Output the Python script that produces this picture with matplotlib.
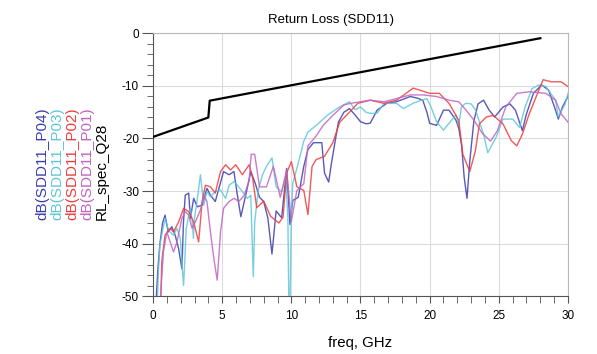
import matplotlib
matplotlib.use("Agg")
import matplotlib.pyplot as plt
from matplotlib.ticker import MultipleLocator

plt.rcParams['font.family'] = ['Liberation Sans', 'DejaVu Sans']
plt.rcParams['axes.unicode_minus'] = False

# ---- data ----
spec_f = [0, 4.0, 4.1, 28.0]
spec_db = [-19.7, -16.0, -12.8, -0.9]

p04_f = [0.2, 0.35, 0.5, 0.7, 0.87, 1.1, 1.36, 1.6, 1.85, 2.09, 2.2, 2.33, 2.58, 2.7, 2.94, 3.2, 3.55, 3.9,
         4.15, 4.5, 4.9, 5.1, 5.5, 5.85, 6.1, 6.35, 6.7, 7.07, 7.4, 7.7, 8.0, 8.3, 8.6, 8.9, 9.3, 9.66, 9.9,
         10.1, 10.5, 10.9, 11.2, 11.6, 12.2, 12.4, 12.7, 12.9, 13.4, 13.8, 14.2, 14.6, 15.0, 15.4, 15.7, 16.2,
         16.9, 17.6, 18.1, 18.6, 19.1, 19.5, 19.8, 20.0, 20.5, 21.0, 21.4, 21.9, 22.1, 22.3, 22.5, 22.7, 22.9,
         23.2, 23.5, 23.9, 24.3, 24.7, 25.3, 25.8, 26.2, 26.7, 27.0, 27.5, 28.1, 28.6, 29.1, 29.3, 29.6, 30.0]
p04_db = [-52, -45, -40, -36, -34.6, -37.8, -36.8, -38.4, -41, -44.8, -36, -30.8, -30.4, -35.2, -31.4, -33,
          -32.7, -29.5, -30.8, -32, -28.2, -26.3, -26.9, -26.3, -30.8, -34.9, -30.8, -26.3, -28.6, -31.2, -32,
          -35.1, -42, -33.8, -35.1, -25.7, -36.4, -31.8, -31.2, -25.3, -22.1, -20.8, -20.8, -26.6, -28.3, -24.7,
          -16.9, -15, -14.3, -15.5, -16.8, -17.2, -17.1, -14.6, -13.3, -13, -12.5, -12, -12.3, -12.7, -15,
          -17.1, -17.5, -14.6, -14.6, -16.5, -18, -21.1, -27.5, -31.4, -24.3, -16.6, -13.4, -12.7, -14.6,
          -15.9, -14, -13.4, -14.6, -18.5, -15.3, -11.4, -9.8, -10.8, -14.6, -16.3, -14, -12]

p03_f = [0.3, 0.4, 0.5, 0.63, 0.87, 1.12, 1.48, 1.73, 1.97, 2.1, 2.21, 2.32, 2.4, 2.7, 2.85, 2.92, 3.0, 3.18,
         3.43, 3.67, 3.9, 4.15, 4.5, 4.88, 5.25, 5.5, 5.86, 6.1, 6.46, 6.83, 7.07, 7.15, 7.25, 7.35, 7.6, 7.9,
         8.2, 8.6, 8.9, 9.3, 9.6, 9.75, 9.82, 9.9, 10.0, 10.1, 10.5, 10.9, 11.2, 11.8, 12.6, 13.3, 14.2, 14.6,
         15.0, 15.4, 15.7, 16.2, 16.7, 17.6, 18.1, 18.8, 19.3, 19.8, 20.1, 20.5, 21.0, 21.4, 21.9, 22.1, 22.3,
         22.6, 23.0, 23.3, 23.9, 24.2, 24.8, 25.3, 26.0, 26.5, 26.9, 27.4, 27.9, 28.4, 29.1, 29.3, 29.8, 30.0]
p03_db = [-52, -45, -40.3, -38.4, -35.2, -37.5, -38.4, -37.1, -39, -44, -48, -42, -37.1, -33.3, -36, -39,
          -35.2, -32, -26.9, -32.7, -30.1, -31.1, -30.1, -29.8, -31.4, -28.9, -28.2, -28.9, -30.1, -31.4,
          -30.8, -38, -46.3, -36, -30, -27, -25.3, -23.7, -29.2, -30.2, -27.3, -35, -52, -52, -35, -28.6,
          -24.7, -20.5, -18.8, -17.5, -15.6, -14.3, -13, -14.5, -14, -15, -15.2, -15.2, -13.3, -13.3, -14.3,
          -13.3, -12.8, -12.4, -14, -16.8, -18.4, -17.1, -15.5, -17.5, -14, -13.3, -13.4, -14.5, -19.2,
          -22.7, -19.8, -16.3, -16.3, -17.9, -14, -10.5, -9.8, -10.1, -12.7, -15.9, -13.4, -11.4]

p02_f = [0.55, 0.63, 0.87, 1.24, 1.48, 1.85, 2.21, 2.58, 2.94, 3.3, 3.55, 3.79, 4.15, 4.5, 4.88, 5.25, 5.6,
         5.98, 6.46, 6.95, 7.2, 7.5, 8.0, 8.5, 9.1, 9.4, 9.66, 10.0, 10.4, 10.9, 11.2, 11.5, 11.8, 12.4, 13.0,
         13.5, 14.2, 14.8, 15.7, 16.7, 17.6, 18.3, 18.8, 19.3, 20.0, 20.7, 21.4, 22.1, 22.4, 22.9, 23.3, 23.6,
         24.1, 24.6, 25.3, 25.9, 26.3, 26.7, 27.2, 27.8, 28.2, 28.8, 29.5, 30.0]
p02_db = [-52, -43.5, -38.4, -37.1, -37.8, -35.9, -33.3, -33.9, -35.9, -39.7, -32, -28.9, -29.2, -30.4,
          -26.3, -25, -26, -25, -26.9, -25, -27.5, -33.2, -31.9, -34.8, -36.1, -35, -26.6, -24.4, -29.2,
          -29.9, -34.5, -25.3, -24, -23.4, -20.8, -16.9, -15, -13.3, -12.7, -13.3, -12.7, -11.4, -10.4,
          -10.8, -11.4, -11.4, -13.3, -16.5, -23, -26.3, -22.4, -17.2, -15.9, -15.6, -17.2, -20.4, -21.4,
          -19.2, -15.3, -11.4, -8.8, -9.2, -9.2, -10.1]

p01_f = [0.5, 0.75, 1.0, 1.24, 1.48, 1.73, 2.09, 2.33, 2.58, 2.82, 3.06, 3.43, 3.67, 3.9, 4.15, 4.4, 4.64,
         4.88, 5.1, 5.5, 5.86, 6.2, 6.6, 6.95, 7.1, 7.35, 7.7, 8.2, 8.7, 9.2, 9.66, 10.0, 10.4, 10.9, 11.2,
         11.8, 12.3, 13.0, 13.8, 14.3, 15.0, 15.7, 16.7, 17.6, 18.6, 19.5, 20.5, 21.4, 22.1, 22.6, 23.2,
         23.8, 24.4, 24.9, 25.5, 26.3, 27.2, 28.4, 29.1, 29.5, 30.0]
p01_db = [-52, -41.6, -37.8, -39.7, -41.6, -39.7, -35.2, -33.9, -34.6, -37.1, -35.9, -33.6, -30.8, -32,
          -37.8, -42.9, -47, -37.8, -33.3, -32, -31.4, -32, -30.8, -28, -23, -23, -29.2, -29.2, -25.3, -31.2,
          -26, -35.8, -29.9, -28.6, -21.4, -19.5, -17.5, -15.6, -13.6, -13.3, -13, -12.7, -13, -12.4, -11.7,
          -11.7, -12, -12.7, -13, -14.5, -16.5, -19, -20.5, -18.5, -14, -11.4, -11.1, -11.4, -12.7, -15.3,
          -16.9]

legend_labels = ["dB(SDD11_P04)", "dB(SDD11_P03)", "dB(SDD11_P02)", "dB(SDD11_P01)", "RL_spec_Q28"]
colors = ["#3c3cb0", "#5ec6da", "#f03c3c", "#c064c0", "#000000"]

xticks = [0, 5, 10, 15, 20, 25, 30]
yticks = [0, -10, -20, -30, -40, -50]

# ---- figure ----
fig = plt.figure(figsize=(5.97, 3.54), dpi=100)
ax = fig.add_axes([0.2563, 0.1638, 0.6951, 0.7416])

series = [(p04_f, p04_db), (p03_f, p03_db), (p02_f, p02_db), (p01_f, p01_db)]
for (f, d), c in zip(series, colors[:4]):
    ax.plot(f, d, color=c, lw=1.0, alpha=0.85, zorder=3)
ax.plot(spec_f, spec_db, color=colors[4], lw=1.6, zorder=4)

ax.set_xlim(0, 30)
ax.set_ylim(-50, 0)
ax.set_xticks(xticks)
ax.set_yticks(yticks)
ax.set_xticklabels([str(v) for v in xticks])
ax.set_yticklabels([str(v) for v in yticks])
ax.xaxis.set_minor_locator(MultipleLocator(1))
ax.yaxis.set_minor_locator(MultipleLocator(2))
ax.grid(True, which='major', color='#dcdcdc', lw=0.8)
ax.tick_params(axis='x', which='both', direction='out', length=5, color='#555555', labelsize=8.5, pad=5)
ax.tick_params(axis='y', which='major', direction='out', length=8, color='#555555', labelsize=8.5, pad=2)
ax.tick_params(axis='y', which='minor', direction='out', length=4, color='#555555')
for s in ['top', 'right']:
    ax.spines[s].set_color('#b8b8b8')
for s in ['left', 'bottom']:
    ax.spines[s].set_color('#555555')

fig.text(0.554, 0.9435, "Return Loss (SDD11)", ha='center', va='center', fontsize=9.5)
fig.text(0.603, 0.031, "freq, GHz", ha='center', va='center', fontsize=10.8)

xs = [42, 57, 72, 87, 102]
for x, lab, c in zip(xs, legend_labels, colors):
    fig.text(x / 597, 1 - 220 / 354, lab, rotation=90, ha='center', va='bottom',
             fontsize=11, color=c)

fig.savefig("out.png", dpi=100)
